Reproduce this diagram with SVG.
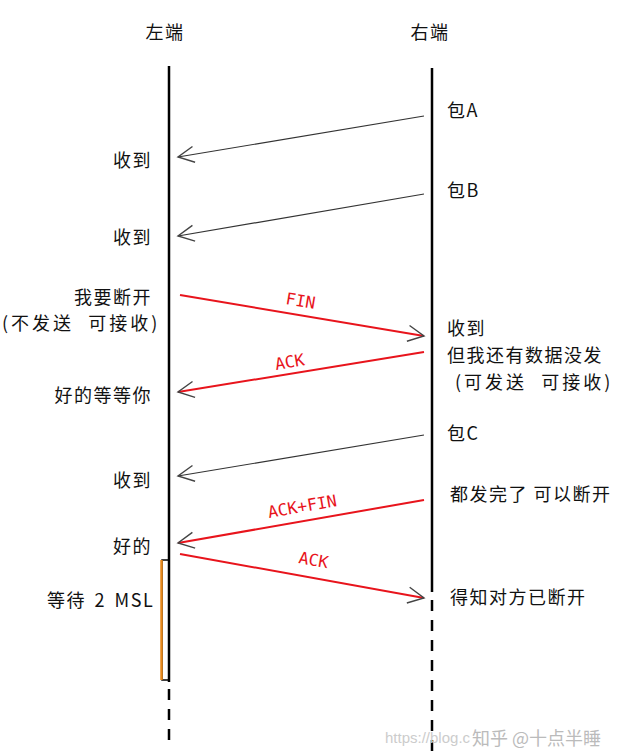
<svg xmlns="http://www.w3.org/2000/svg" width="638" height="754" viewBox="0 0 638 754">
<defs>
<style>
.t{font-family:"Noto Sans CJK SC","DejaVu Sans",sans-serif;font-size:18px;fill:#111;letter-spacing:1.5px}
.r{text-anchor:end}
.p{letter-spacing:3px}
.lbl{font-family:"DejaVu Sans Mono","Liberation Mono",monospace;font-size:16.5px;fill:#e8141c}
.life{stroke:#000;stroke-width:2.5;fill:none}
.dash{stroke:#000;stroke-width:2.5;stroke-dasharray:11 9;fill:none}
.blk{stroke:#333;stroke-width:1.2;fill:none}
.red{stroke:#e8141c;stroke-width:2;fill:none}
.wm{font-family:"Liberation Sans",sans-serif;font-size:15px;fill:#ccc}
</style>
<marker id="ah" viewBox="0 0 20 20" refX="18" refY="10" markerWidth="20" markerHeight="20" markerUnits="userSpaceOnUse" orient="auto">
<path d="M2,2 L18,10 L2,18" fill="none" stroke="#444" stroke-width="1.4"/>
</marker>
</defs>
<rect width="638" height="754" fill="#fff"/>

<g id="left-end">
<text class="t" x="165" y="39" text-anchor="middle">左端</text>
<line class="life" x1="169" y1="66" x2="169" y2="682"/>
<line class="dash" x1="169" y1="689" x2="169" y2="746"/>
</g>
<g id="right-end">
<text class="t" x="430" y="39" text-anchor="middle">右端</text>
<line class="life" x1="432" y1="68" x2="432" y2="592"/>
<line class="dash" x1="432" y1="600" x2="432" y2="752"/>
</g>

<g id="wait-bar">
<rect x="162" y="560" width="6.5" height="120" fill="#fff" stroke="#000" stroke-width="1.5"/>
<line x1="161.5" y1="560" x2="161.5" y2="680" stroke="#e8891a" stroke-width="2.5"/>
</g>

<g id="connectors">
<line class="blk" x1="424" y1="116" x2="178" y2="157" marker-end="url(#ah)"/>
<line class="blk" x1="424" y1="194" x2="178" y2="236" marker-end="url(#ah)"/>
<line class="red" x1="180" y1="295" x2="424" y2="336" marker-end="url(#ah)"/>
<line class="red" x1="424" y1="352" x2="178" y2="392" marker-end="url(#ah)"/>
<line class="blk" x1="424" y1="435" x2="178" y2="476" marker-end="url(#ah)"/>
<line class="red" x1="424" y1="500" x2="178" y2="543" marker-end="url(#ah)"/>
<line class="red" x1="180" y1="554" x2="424" y2="598" marker-end="url(#ah)"/>
<text class="lbl" transform="translate(285,304) rotate(9.5)">FIN</text>
<text class="lbl" transform="translate(276,370) rotate(-9.5)">ACK</text>
<text class="lbl" transform="translate(269,518) rotate(-10)">ACK+FIN</text>
<text class="lbl" transform="translate(298,563) rotate(10)">ACK</text>
</g>

<g id="left-labels">
<text class="t r" x="152" y="167">收到</text>
<text class="t r" x="152" y="244">收到</text>
<text class="t r" x="152" y="304">我要断开</text>
<text class="t p" x="2" y="330" xml:space="preserve">(不发送  可接收)</text>
<text class="t r" x="152" y="402">好的等等你</text>
<text class="t r" x="152" y="487">收到</text>
<text class="t r" x="152" y="553">好的</text>
<text class="t" x="47" y="607" style="word-spacing:3px">等待 2 MSL</text>
</g>

<g id="right-labels">
<text class="t" x="447" y="117">包A</text>
<text class="t" x="447" y="197">包B</text>
<text class="t" x="447" y="335">收到</text>
<text class="t" x="447" y="362">但我还有数据没发</text>
<text class="t p" x="455" y="389" xml:space="preserve">(可发送  可接收)</text>
<text class="t" x="447" y="440">包C</text>
<text class="t" x="450" y="501">都发完了 可以断开</text>
<text class="t" x="450" y="604">得知对方已断开</text>
</g>

<g id="watermark">
<text class="wm" x="385" y="743">https://blog.c</text>
<text class="wm" x="472" y="745" style="font-family:'Noto Sans CJK SC',sans-serif;font-size:18px;fill:#bbb">知乎 @十点半睡</text>
</g>
</svg>
